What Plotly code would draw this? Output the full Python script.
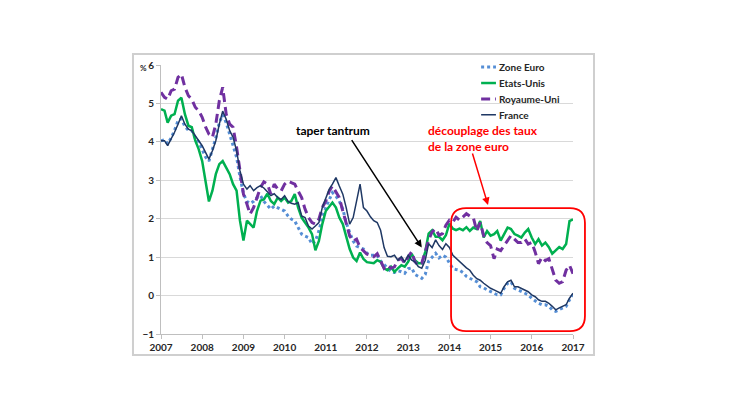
import pandas as pd
import plotly.graph_objects as go

# monthly points, Jan 2007 -> Jan 2017
dates = pd.date_range("2007-01-01", periods=121, freq="MS")

zone_euro = [
    4.03, 4.05, 3.95, 4.1, 4.3, 4.55, 4.6, 4.4, 4.3, 4.3, 4.1, 4.0,
    3.8, 3.6, 3.5, 3.8, 4.1, 4.5, 4.7, 4.5, 4.2, 3.95, 3.6, 3.1,
    2.65, 2.45, 2.4, 2.45, 2.55, 2.6, 2.45, 2.35, 2.25, 2.33, 2.29, 2.25,
    2.2, 2.07, 1.99, 1.94, 1.77, 1.6, 1.55, 1.51, 1.34, 1.42, 1.68, 2.03,
    2.29, 2.51, 2.68, 2.59, 2.46, 2.25, 1.9, 1.64, 1.42, 1.29, 1.25, 1.21,
    1.1, 1.05, 1.05, 1.05, 0.9, 0.8, 0.7, 0.62, 0.6, 0.65, 0.62, 0.58,
    0.7, 0.72, 0.55, 0.5, 0.45, 0.55, 0.9, 1.0, 1.1, 0.98, 1.05, 1.0,
    0.85, 0.7, 0.68, 0.66, 0.6, 0.5, 0.45, 0.4, 0.36, 0.23, 0.2, 0.15,
    0.1, 0.06, 0.02, 0.02, 0.19, 0.32, 0.36, 0.19, 0.15, 0.1, 0.06, 0.02,
    -0.07, -0.15, -0.2, -0.24, -0.24, -0.28, -0.37, -0.41, -0.37, -0.32, -0.28, -0.11,
    0.02,
]

etats_unis = [
    4.85, 4.81, 4.5, 4.68, 4.72, 5.07, 5.15, 4.72, 4.42, 4.38, 4.03, 3.81,
    3.5, 2.9, 2.45, 2.73, 3.16, 3.42, 3.5, 3.33, 3.16, 2.9, 2.73, 1.95,
    1.43, 1.95, 1.86, 1.77, 2.2, 2.47, 2.5, 2.65, 2.46, 2.38, 2.55, 2.46,
    2.55, 2.42, 2.46, 2.64, 2.29, 2.03, 1.9, 1.77, 1.6, 1.18, 1.42, 1.86,
    2.2, 2.33, 2.42, 2.29, 2.03, 1.86, 1.51, 1.21, 0.99, 0.9, 1.12, 0.95,
    0.87, 0.85, 0.84, 0.92, 0.88, 0.71, 0.66, 0.75, 0.62, 0.71, 0.79, 0.75,
    0.88, 1.09, 0.92, 0.84, 0.84, 1.14, 1.61, 1.7, 1.53, 1.53, 1.44, 1.57,
    1.87, 1.74, 1.7, 1.74, 1.7, 1.78, 1.68, 1.77, 1.73, 1.94, 1.51, 1.68,
    1.56, 1.6, 1.68, 1.43, 1.6, 1.77, 1.73, 1.6, 1.56, 1.51, 1.64, 1.73,
    1.51, 1.34, 1.47, 1.3, 1.38, 1.26, 1.09, 1.17, 1.26, 1.21, 1.34, 1.94,
    1.98,
]

royaume_uni = [
    5.29, 5.16, 5.11, 5.33, 5.37, 5.68, 5.76, 5.42, 5.2, 5.11, 4.9, 4.81,
    4.64, 4.38, 4.2, 4.12, 4.46, 5.07, 5.42, 4.72, 4.46, 4.38, 3.86, 3.25,
    2.64, 2.38, 2.12, 2.29, 2.55, 2.81, 2.96, 2.9, 2.64, 2.9, 2.77, 2.72,
    2.9, 2.98, 2.94, 2.9, 2.72, 2.55, 2.25, 2.03, 1.9, 1.86, 1.99, 2.29,
    2.46, 2.72, 2.85, 2.68, 2.55, 2.2, 1.86, 1.55, 1.42, 1.47, 1.25, 1.16,
    1.08, 1.05, 1.01, 1.09, 0.88, 0.71, 0.79, 0.71, 0.75, 0.92, 0.97, 0.84,
    1.01, 1.14, 0.88, 0.79, 0.84, 1.14, 1.44, 1.66, 1.74, 1.57, 1.61, 1.83,
    1.96, 1.91, 2.04, 1.96, 2.04, 2.13, 2.07, 2.03, 1.68, 1.9, 1.56, 1.38,
    1.3, 0.96, 1.21, 1.17, 1.3, 1.43, 1.56, 1.47, 1.38, 1.38, 1.47, 1.34,
    1.38, 1.13, 0.83, 1.0, 0.91, 0.96, 0.66, 0.4, 0.32, 0.36, 0.66, 0.79,
    0.57,
]

france = [
    4.03, 4.03, 3.9, 4.07, 4.25, 4.46, 4.68, 4.46, 4.33, 4.29, 4.16, 4.03,
    3.9, 3.72, 3.55, 3.77, 4.03, 4.46, 4.8, 4.59, 4.29, 4.12, 3.77, 3.25,
    2.9, 2.77, 2.86, 2.73, 2.81, 2.86, 2.8, 2.7, 2.6, 2.65, 2.55, 2.5,
    2.6, 2.45, 2.4, 2.38, 2.42, 2.07, 2.03, 1.81, 1.73, 1.81, 1.9, 2.29,
    2.51, 2.77, 2.9, 3.07, 2.85, 2.64, 2.29, 1.86, 2.03, 2.46, 2.9, 2.29,
    2.2, 2.05, 1.95, 1.9, 1.7, 1.25, 1.02, 1.01, 1.05, 0.92, 1.01, 0.88,
    1.05, 0.92, 0.88, 0.75, 0.71, 0.92, 1.35, 1.25, 1.45, 1.3, 1.2, 1.35,
    1.25, 1.05, 0.97, 0.9, 0.8, 0.72, 0.66, 0.53, 0.44, 0.4, 0.32, 0.25,
    0.19, 0.15, 0.1, 0.06, 0.23, 0.36, 0.4, 0.23, 0.23, 0.19, 0.15, 0.1,
    0.02, -0.03, -0.11, -0.15, -0.15, -0.2, -0.28, -0.37, -0.32, -0.28, -0.24, -0.07,
    0.06,
]

series_names = ["Zone Euro", "Etats-Unis", "Royaume-Uni", "France"]
colors = ["#558ED5", "#00B050", "#7030A0", "#1F3864"]
widths = [3, 2.5, 3, 1.5]
dashes = ["dot", "solid", "9px,5px", "solid"]

FONT = "Lato"
TXT = "#262626"

fig = go.Figure()
for name, vals, col, w, d in zip(series_names, [zone_euro, etats_unis, royaume_uni, france],
                                 colors, widths, dashes):
    fig.add_trace(go.Scatter(x=dates, y=vals, name=name, mode="lines",
                             line=dict(color=col, width=w, dash=d)))

# page body has an 8px margin, so the plot area is set 8px up/left
fig.update_layout(
    width=730, height=410,
    margin=dict(l=153, r=165, t=57, b=84),
    paper_bgcolor="white", plot_bgcolor="white",
    showlegend=False,
    font=dict(family=FONT, color=TXT),
)
fig.update_xaxes(
    type="date", range=["2007-01-01", "2017-01-01"],
    tick0="2007-01-01", dtick="M12", tickformat="%Y",
    showgrid=False, showline=True, linecolor="#BFBFBF", linewidth=1,
    ticks="outside", ticklen=4, tickcolor="#BFBFBF",
    tickfont=dict(family=FONT, size=10, color=TXT, weight="bold"),
)
fig.update_yaxes(
    range=[-1, 6], dtick=1, zeroline=False,
    showgrid=True, gridcolor="#D9D9D9", gridwidth=1,
    showline=True, linecolor="#BFBFBF", linewidth=1,
    ticks="outside", ticklen=4, tickcolor="#BFBFBF",
    tickfont=dict(family=FONT, size=10, color=TXT, weight="bold"),
)

shapes = []
# chart-area frame
shapes.append(dict(type="rect", xref="paper", yref="paper",
                   x0=-0.068, x1=1.051, y0=-0.078, y1=1.041,
                   line=dict(color="#CFCFCF", width=2), layer="below"))

# rounded red box around the 2014-2017 period
x0, x1, y0, y1 = 0.704, 1.029, 0.011, 0.468
rx, ry = 0.0364, 0.0558
path = (f"M {x0+rx},{y0} L {x1-rx},{y0} Q {x1},{y0} {x1},{y0+ry} "
        f"L {x1},{y1-ry} Q {x1},{y1} {x1-rx},{y1} L {x0+rx},{y1} "
        f"Q {x0},{y1} {x0},{y1-ry} L {x0},{y0+ry} Q {x0},{y0} {x0+rx},{y0} Z")
shapes.append(dict(type="path", xref="paper", yref="paper", path=path,
                   line=dict(color="#FF0000", width=1.8)))

# hand-made legend
leg_y = [0.993, 0.933, 0.874, 0.815]
annotations = []
for name, col, w, d, ly in zip(series_names, colors, widths, dashes, leg_y):
    shapes.append(dict(type="line", xref="paper", yref="paper",
                       x0=0.777, x1=0.813, y0=ly, y1=ly,
                       line=dict(color=col, width=w, dash=d)))
    annotations.append(dict(xref="paper", yref="paper", x=0.818, y=ly,
                            text=name, showarrow=False, xanchor="left",
                            yanchor="middle", borderpad=0,
                            font=dict(family=FONT, size=10, color=TXT, weight="bold")))

annotations += [
    dict(xref="paper", yref="paper", x=-0.056, y=1.016, text="%",
         showarrow=False, font=dict(family=FONT, size=8, color=TXT, weight="bold")),
    dict(xref="paper", yref="paper", x=0.4175, y=0.79, text="taper tantrum",
         showarrow=False, font=dict(family=FONT, size=12, color="black", weight="bold")),
    dict(x="2013-05-01", y=1.25, text="", showarrow=True,
         ax=-71, ay=-109, arrowcolor="black", arrowwidth=1.5,
         arrowhead=2, arrowsize=1),
    dict(xref="paper", yref="paper", x=0.6456, y=0.727,
         text="découplage des taux<br>de la zone euro", showarrow=False,
         xanchor="left", yanchor="middle", align="left", borderpad=0,
         font=dict(family=FONT, size=12, color="#FF0000", weight="bold")),
    dict(xref="paper", yref="paper", x=0.7937, y=0.4796, text="",
         showarrow=True, ax=-16, ay=-53, arrowcolor="#FF0000",
         arrowwidth=1.5, arrowhead=2, arrowsize=1),
]

fig.update_layout(shapes=shapes, annotations=annotations)

fig.write_html("out.html")
